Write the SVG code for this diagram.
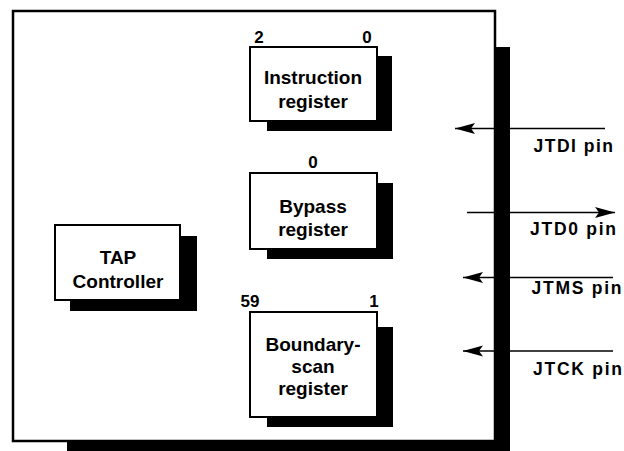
<svg xmlns="http://www.w3.org/2000/svg" width="624" height="451" viewBox="0 0 624 451">
<style>
.box{fill:#fff;stroke:#000;stroke-width:2}
.sh{fill:#000;stroke:none}
.t{font-family:"Liberation Sans",Arial,sans-serif;font-size:19px;font-weight:bold;fill:#000;text-anchor:middle}
.n{font-family:"Liberation Sans",Arial,sans-serif;font-size:17px;font-weight:bold;fill:#000;text-anchor:middle}
.p{font-family:"Liberation Sans",Arial,sans-serif;font-size:17.5px;font-weight:bold;fill:#000}
.w{stroke:#000;stroke-width:1.5;fill:none}
</style>
<defs>
<marker id="ah" markerUnits="userSpaceOnUse" markerWidth="22" markerHeight="12" refX="20" refY="6" orient="auto">
<path d="M0,0.5 L20,6 L0,11.5 L4,6 Z" fill="#000"/>
</marker>
</defs>
<g id="chip">
<rect class="sh" x="67" y="47" width="443" height="410"/>
<rect x="13" y="11" width="482" height="430" fill="#fff" stroke="#000" stroke-width="2.5"/>
</g>
<g id="instruction-register">
<rect class="sh" x="267" y="56" width="125" height="75"/>
<rect class="box" x="250" y="47" width="127" height="74"/>
<text class="n" x="259" y="43">2</text>
<text class="n" x="367" y="43">0</text>
<text class="t" x="313" y="84">Instruction</text>
<text class="t" x="313" y="108">register</text>
</g>
<g id="bypass-register">
<rect class="sh" x="267" y="183" width="126" height="76"/>
<rect class="box" x="250" y="173" width="127" height="76"/>
<text class="n" x="313" y="168">0</text>
<text class="t" x="313" y="213">Bypass</text>
<text class="t" x="313" y="236">register</text>
</g>
<g id="boundary-scan-register">
<rect class="sh" x="267" y="327" width="126" height="100"/>
<rect class="box" x="250" y="312" width="127" height="105"/>
<text class="n" x="250" y="307">59</text>
<text class="n" x="374" y="307">1</text>
<text class="t" x="313" y="351">Boundary-</text>
<text class="t" x="313" y="373">scan</text>
<text class="t" x="313" y="395">register</text>
</g>
<g id="tap-controller">
<rect class="sh" x="70" y="236" width="127" height="75"/>
<rect class="box" x="55" y="225" width="125" height="75"/>
<text class="t" x="118" y="264">TAP</text>
<text class="t" x="118" y="288">Controller</text>
</g>
<g id="connectors">
<line class="w" x1="605" y1="128.5" x2="455" y2="128.5" marker-end="url(#ah)"/>
<line class="w" x1="467" y1="212.5" x2="615" y2="212.5" marker-end="url(#ah)"/>
<line class="w" x1="613" y1="277.5" x2="463" y2="277.5" marker-end="url(#ah)"/>
<line class="w" x1="613" y1="351" x2="463" y2="351" marker-end="url(#ah)"/>
</g>
<g id="pin-labels">
<text class="p" x="533.5" y="152" textLength="79.5" lengthAdjust="spacing">JTDI pin</text>
<text class="p" x="530" y="235" textLength="86" lengthAdjust="spacing">JTD0 pin</text>
<text class="p" x="531.5" y="294" textLength="90" lengthAdjust="spacing">JTMS pin</text>
<text class="p" x="533" y="375" textLength="89" lengthAdjust="spacing">JTCK pin</text>
</g>
</svg>
